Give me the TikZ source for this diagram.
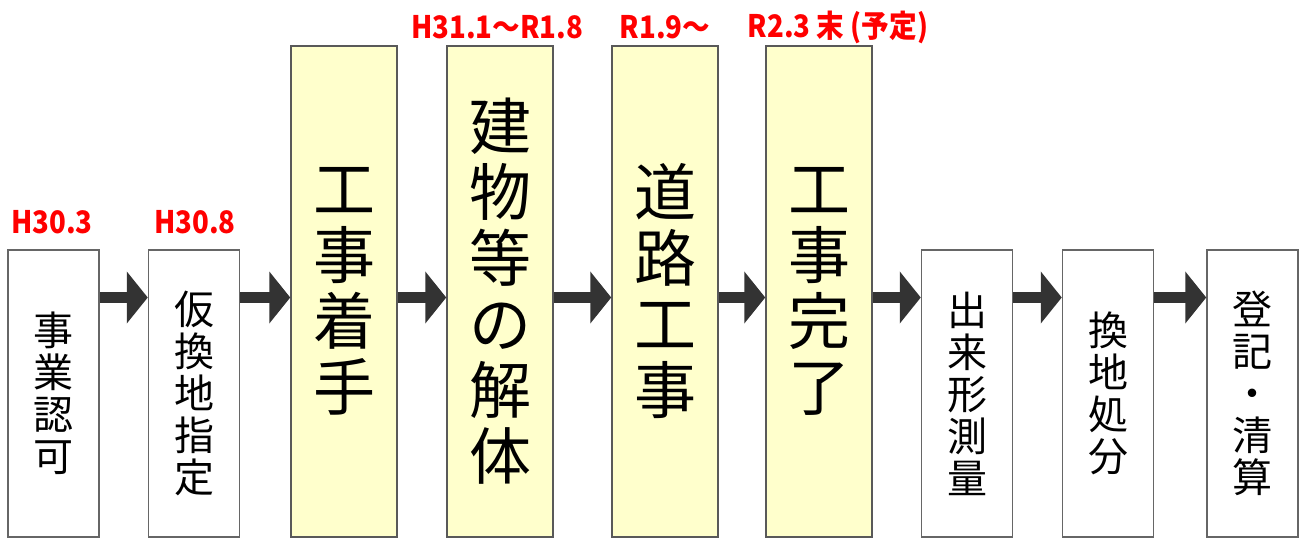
\documentclass[tikz,border=0pt]{standalone}
\usepackage{fontspec}
\newfontfamily\jpfont{Noto Sans CJK JP}
\newfontfamily\datefont{Noto Sans CJK JP}[FakeStretch=0.89]
\usetikzlibrary{arrows.meta}
\definecolor{memo}{HTML}{FFFFCC}
\definecolor{arrowgray}{HTML}{333333}
\tikzset{
    smallbox/.style={draw=black!60, line width=1.5pt, fill=white, minimum width=91pt, minimum height=287pt, inner sep=0pt, align=center, font=\jpfont\fontsize{40}{42}\selectfont},
    bigbox/.style={draw=black!65, line width=1.5pt, fill=memo, minimum width=106pt, minimum height=491pt, inner sep=0pt, align=center, font=\jpfont\fontsize{62}{66}\selectfont},
    datelabel/.style={text=red, inner sep=0pt, font=\datefont\bfseries\fontsize{31}{31}\selectfont},
    flow/.style={arrowgray, line width=11pt, -{Triangle[width=51pt,length=21pt]}}
}

\begin{document}
\begin{tikzpicture}[x=1pt,y=-1pt]
    \useasboundingbox (0,0) rectangle (1301,539);
    \coordinate (lvl) at (0,297.5);

    \node[smallbox] at (53.5,393.5)   (ninka)   {事\\業\\認\\可};
    \node[smallbox] at (194,393.5)    (karikan) {仮\\換\\地\\指\\定};
    \node[bigbox]   at (344,291.5)    (chakushu) {工\\事\\着\\手};
    \node[bigbox]   at (500,291.5)    (kaitai)  {建\\物\\等\\の\\解\\体};
    \node[bigbox]   at (665,291.5)    (doro)    {道\\路\\工\\事};
    \node[bigbox]   at (819,291.5)    (kanryo)  {工\\事\\完\\了};
    \node[smallbox] at (967,393.5)    (sokuryo) {出\\来\\形\\測\\量};
    \node[smallbox] at (1108,393.5)   (shobun)  {換\\地\\処\\分};
    \node[smallbox] at (1252.5,393.5) (seisan)  {登\\記\\・\\清\\算};

    \node[datelabel] at (52,222)  (d1) {H30.3};
    \node[datelabel] at (195,222) (d2) {H30.8};
    \node[datelabel] at (497,27)  (d3) {H31.1～R1.8};
    \node[datelabel] at (665,27)  (d4) {R1.9～};
    \node[datelabel] at (838,27)  (d5) {R2.3 末 (予定)};

    \draw[flow] (ninka.east |- lvl) -- (karikan.west |- lvl);
    \draw[flow] (karikan.east |- lvl) -- (chakushu.west |- lvl);
    \draw[flow] (chakushu.east |- lvl) -- (kaitai.west |- lvl);
    \draw[flow] (kaitai.east |- lvl) -- (doro.west |- lvl);
    \draw[flow] (doro.east |- lvl) -- (kanryo.west |- lvl);
    \draw[flow] (kanryo.east |- lvl) -- (sokuryo.west |- lvl);
    \draw[flow] (sokuryo.east |- lvl) -- (shobun.west |- lvl);
    \draw[flow] (shobun.east |- lvl) -- (seisan.west |- lvl);
\end{tikzpicture}
\end{document}
